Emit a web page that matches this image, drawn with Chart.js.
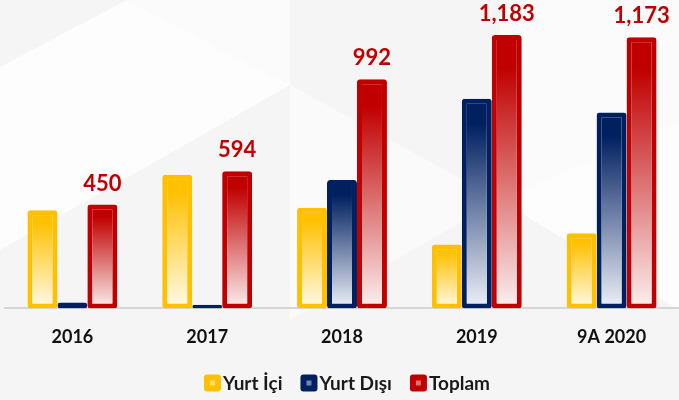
<!DOCTYPE html>
<html>
<head>
<meta charset="utf-8">
<script src="https://cdn.jsdelivr.net/npm/chart.js@4"></script>
<style>
  html, body { margin: 0; padding: 0; background: #f6f6f6; }
  #wrap { width: 679px; height: 400px; position: relative; }
</style>
</head>
<body>
<div id="wrap"><canvas id="chart"></canvas></div>
<script>
// ===== Veriler =====
const years = ['2016', '2017', '2018', '2019', '9A 2020'];
const yurtIci = [425, 578, 436, 276, 325];
const yurtDisi = [25, 16, 556, 907, 848];
const toplam = [450, 594, 992, 1183, 1173];

const seriesNames = ['Yurt İçi', 'Yurt Dışı', 'Toplam'];
const seriesColors = ['#ffc000', '#002060', '#c00000'];
const seriesLight = ['#fffbea', '#eef1f8', '#fcf0f0'];

// gradient cho từng cột: màu đậm ở trên, nhạt dần xuống dưới
function barFill(i) {
  return (context) => {
    const chart = context.chart;
    const area = chart.chartArea;
    if (!area || context.type !== 'data') return seriesColors[i];
    const y = chart.scales.y;
    const top = y.getPixelForValue(context.raw);
    const bottom = y.getPixelForValue(0);
    if (!isFinite(top) || bottom - top < 2) return seriesColors[i];
    const g = chart.ctx.createLinearGradient(0, top, 0, bottom);
    g.addColorStop(0, seriesColors[i]);
    g.addColorStop(0.12, seriesColors[i]);
    g.addColorStop(1, seriesLight[i]);
    return g;
  };
}

// nền xám với các tam giác sáng
const bgPlugin = {
  id: 'bg',
  beforeDraw(chart) {
    const ctx = chart.ctx;
    const w = chart.width, h = chart.height;
    ctx.save();
    ctx.fillStyle = '#f5f5f5';
    ctx.fillRect(0, 0, w, h);
    const tris = [
      ['#fbfbfb', [[127, 0], [290, 0], [290, 85]]],
      ['#fdfdfd', [[0, 67], [127, 0], [290, 85], [0, 250]]],
      ['#fafafa', [[290, 85], [500, 200], [290, 320]]],
      ['#fbfbfb', [[500, 0], [679, 0], [679, 120], [500, 200]]],
      ['#fdfdfd', [[500, 200], [679, 120], [679, 310]]]
    ];
    tris.forEach(([c, pts]) => {
      ctx.fillStyle = c;
      ctx.beginPath();
      pts.forEach((p, k) => k ? ctx.lineTo(p[0], p[1]) : ctx.moveTo(p[0], p[1]));
      ctx.closePath();
      ctx.fill();
    });
    ctx.restore();
  }
};

// nhãn giá trị trên cột Toplam
const labelPlugin = {
  id: 'totals',
  afterDatasetsDraw(chart) {
    const ctx = chart.ctx;
    const meta = chart.getDatasetMeta(2);
    ctx.save();
    ctx.font = 'bold 22px Lato';
    ctx.fillStyle = '#c00000';
    ctx.textAlign = 'center';
    ctx.textBaseline = 'bottom';
    meta.data.forEach((bar, i) => {
      ctx.fillText(toplam[i].toLocaleString('en-US'), bar.x, bar.y - 10);
    });
    ctx.restore();
  }
};

// chú thích tự vẽ (ô màu sát chữ)
const legendPlugin = {
  id: 'ownLegend',
  afterDraw(chart) {
    const ctx = chart.ctx;
    const box = 17, gapText = 2, gapItem = 18, cy = 383;
    ctx.save();
    ctx.font = 'bold 19px Lato';
    const widths = seriesNames.map(n => box + gapText + ctx.measureText(n).width);
    const total = widths.reduce((a, b) => a + b, 0) + gapItem * (seriesNames.length - 1);
    let x = 347 - total / 2;
    seriesNames.forEach((n, i) => {
      ctx.fillStyle = seriesColors[i];
      ctx.beginPath();
      ctx.roundRect(x, cy - box / 2, box, box, 3);
      ctx.fill();
      ctx.fillStyle = 'rgba(255,255,255,0.45)';
      ctx.fillRect(x + box / 2 - 2.5, cy - 2.5, 5, 5);
      ctx.fillStyle = '#1a1a1a';
      ctx.textAlign = 'left';
      ctx.textBaseline = 'middle';
      ctx.fillText(n, x + box + gapText, cy + 1);
      x += widths[i] + gapItem;
    });
    ctx.restore();
  }
};

const allData = [yurtIci, yurtDisi, toplam];

new Chart(document.getElementById('chart'), {
  type: 'bar',
  data: {
    labels: years,
    datasets: allData.map((d, i) => ({
      label: seriesNames[i],
      data: d,
      backgroundColor: barFill(i),
      borderColor: seriesColors[i],
      borderWidth: 5,
      borderSkipped: false,
      borderRadius: 3,
      barPercentage: 1,
      categoryPercentage: 0.667
    }))
  },
  options: {
    responsive: true,
    maintainAspectRatio: false,
    animation: false,
    layout: { padding: { top: 8, left: 5, right: 0, bottom: 42 } },
    plugins: {
      tooltip: { enabled: false },
      legend: { display: false }
    },
    scales: {
      x: {
        grid: { display: false },
        border: { display: true, color: '#d6d6d6', width: 2 },
        ticks: {
          color: '#111',
          font: { family: 'Lato', size: 18, weight: 'bold' },
          padding: 10
        }
      },
      y: {
        display: false,
        min: 0,
        max: 1300
      }
    }
  },
  plugins: [bgPlugin, labelPlugin, legendPlugin]
});
</script>
</body>
</html>
